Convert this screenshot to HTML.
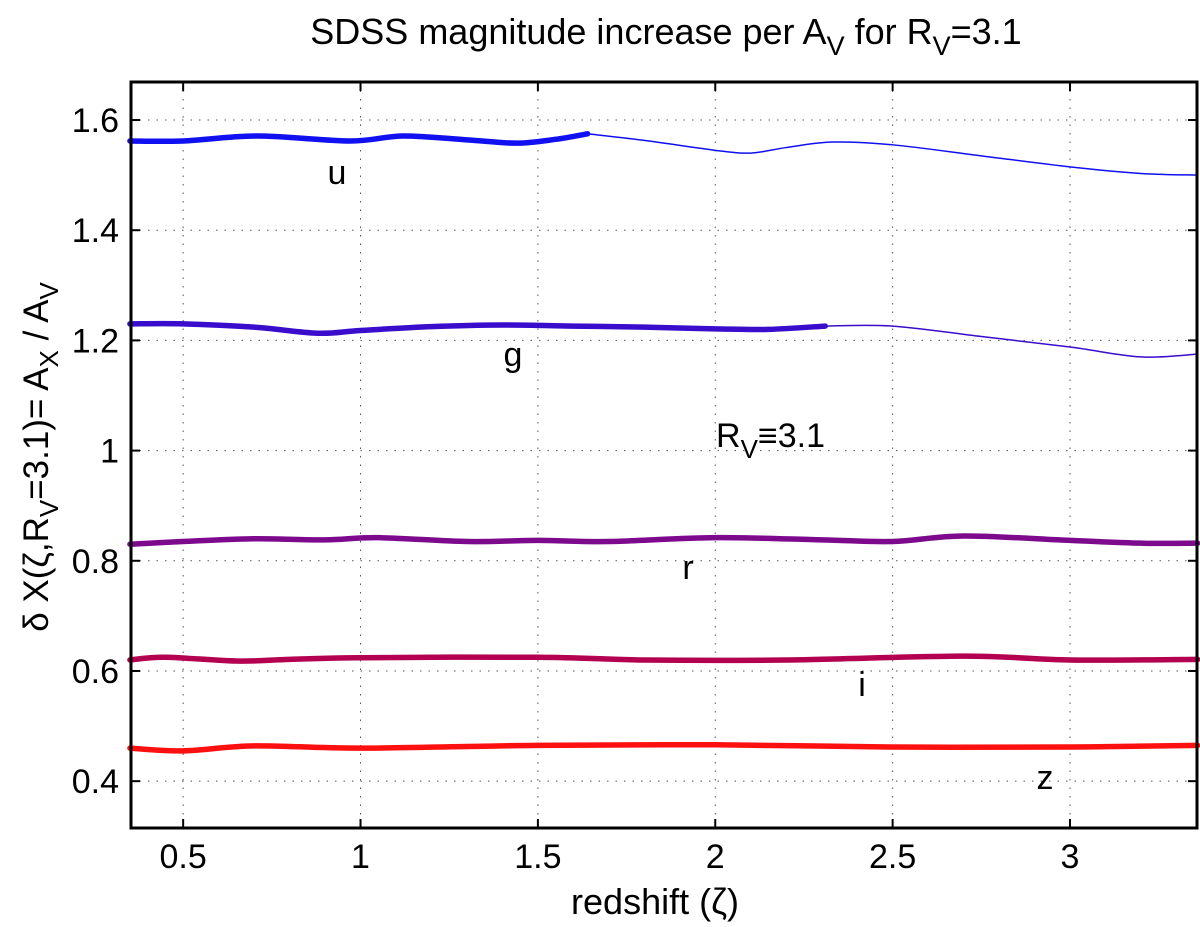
<!DOCTYPE html>
<html><head><meta charset="utf-8"><style>
body{margin:0;background:#fff}
svg text{font-family:"Liberation Sans",sans-serif;fill:#000}
</style></head><body>
<svg id="c" width="1200" height="922" xmlns="http://www.w3.org/2000/svg">
<text x="666" y="44" font-size="36" text-anchor="middle">SDSS magnitude increase per A<tspan font-size="27" dy="11">V</tspan><tspan dy="-11"> for R</tspan><tspan font-size="27" dy="11">V</tspan><tspan dy="-11">=3.1</tspan></text>
<text x="655" y="914" font-size="36" text-anchor="middle">redshift (ζ)</text>
<text transform="translate(48,457) rotate(-90)" font-size="35" text-anchor="middle">δ X(ζ,R<tspan font-size="26" dy="10">V</tspan><tspan dy="-10">=3.1)= A</tspan><tspan font-size="26" dy="10">X</tspan><tspan dy="-10"> / A</tspan><tspan font-size="26" dy="10">V</tspan></text>
<g id="grid"></g><g id="lines"></g><g id="ticks"></g>
<rect x="131" y="82" width="1066" height="746" fill="none" stroke="#000" stroke-width="3"/>
<text x="337" y="184" font-size="34" text-anchor="middle">u</text>
<text x="513" y="366" font-size="34" text-anchor="middle">g</text>
<text x="716" y="447" font-size="34">R<tspan font-size="26" dy="11">V</tspan><tspan dy="-11">≡3.1</tspan></text>
<text x="688" y="579" font-size="34" text-anchor="middle">r</text>
<text x="862" y="696" font-size="34" text-anchor="middle">i</text>
<text x="1045" y="789" font-size="34" text-anchor="middle">z</text>
</svg>
<script>
const xTicks=[0.5,1,1.5,2,2.5,3];
const xTickLabels=["0.5","1","1.5","2","2.5","3"];
const yTicks=[0.4,0.6,0.8,1.0,1.2,1.4,1.6];
const yTickLabels=["0.4","0.6","0.8","1","1.2","1.4","1.6"];
const uThickX=[0.35,0.5,0.71,0.97,1.12,1.3,1.44,1.55,1.64];
const uThickY=[1.562,1.562,1.571,1.562,1.571,1.564,1.558,1.565,1.575];
const uThinX=[1.64,1.8,2.0,2.1,2.2,2.33,2.5,2.75,3.0,3.2,3.36];
const uThinY=[1.575,1.563,1.545,1.540,1.550,1.560,1.555,1.535,1.515,1.503,1.500];
const gThickX=[0.35,0.5,0.7,0.88,1.0,1.2,1.4,1.6,1.8,2.0,2.15,2.31];
const gThickY=[1.230,1.230,1.224,1.213,1.218,1.225,1.228,1.226,1.224,1.221,1.220,1.226];
const gThinX=[2.31,2.5,2.75,3.0,3.2,3.36];
const gThinY=[1.226,1.226,1.207,1.188,1.170,1.175];
const rX=[0.35,0.5,0.7,0.9,1.05,1.3,1.5,1.7,2.0,2.3,2.5,2.7,3.0,3.2,3.36];
const rY=[0.830,0.835,0.840,0.838,0.842,0.835,0.837,0.835,0.842,0.838,0.835,0.845,0.837,0.832,0.832];
const iX=[0.35,0.45,0.65,0.8,1.0,1.5,1.8,2.2,2.7,3.0,3.36];
const iY=[0.620,0.625,0.618,0.621,0.624,0.625,0.620,0.620,0.627,0.620,0.621];
const zX=[0.35,0.5,0.7,1.0,1.5,2.0,2.5,3.0,3.36];
const zY=[0.460,0.455,0.464,0.460,0.465,0.466,0.462,0.462,0.465];
const X0=0.353,X1=3.358,Y0=0.315,Y1=1.669,L=131,R=1197,T=82,B=828;
const sx=v=>L+(v-X0)/(X1-X0)*(R-L), sy=v=>B-(v-Y0)/(Y1-Y0)*(B-T);
const NS="http://www.w3.org/2000/svg";
function mk(tag,attrs,parent){const e=document.createElementNS(NS,tag);for(const k in attrs)e.setAttribute(k,attrs[k]);document.getElementById(parent).appendChild(e);return e;}
xTicks.forEach((t,i)=>{const x=sx(t);
 let g=mk('line',{x1:x,x2:x,y1:T,y2:B,stroke:'#555','stroke-width':1,'stroke-dasharray':'1.5 7'},'grid');
 
 
 mk('line',{x1:x,x2:x,y1:B,y2:B-9,stroke:'#000','stroke-width':2},'ticks');
 mk('line',{x1:x,x2:x,y1:T,y2:T+9,stroke:'#000','stroke-width':2},'ticks');
 const tx=mk('text',{x:x,y:868,'font-size':34,'text-anchor':'middle'},'ticks');tx.textContent=xTickLabels[i];
 
 
});
yTicks.forEach((t,i)=>{const y=sy(t);
 let g=mk('line',{x1:L,x2:R,y1:y,y2:y,stroke:'#555','stroke-width':1,'stroke-dasharray':'1.5 7'},'grid');
 
 
 mk('line',{x1:L,x2:L+9,y1:y,y2:y,stroke:'#000','stroke-width':2},'ticks');
 mk('line',{x1:R,x2:R-9,y1:y,y2:y,stroke:'#000','stroke-width':2},'ticks');
 const tx=mk('text',{x:119,y:y+12,'font-size':34,'text-anchor':'end'},'ticks');tx.textContent=yTickLabels[i];
 
 
});
function path(xs,ys){let d='';const p=xs.map((x,i)=>[sx(x),sy(ys[i])]);
 d='M'+p[0][0]+','+p[0][1];
 for(let i=0;i<p.length-1;i++){const p0=p[i-1]||p[i],p1=p[i],p2=p[i+1],p3=p[i+2]||p2;
  d+=' C'+(p1[0]+(p2[0]-p0[0])/6)+','+(p1[1]+(p2[1]-p0[1])/6)+' '+(p2[0]-(p3[0]-p1[0])/6)+','+(p2[1]-(p3[1]-p1[1])/6)+' '+p2[0]+','+p2[1];}
 return d;}
const series=[[uThickX,uThickY,'#1010f0',5.5,'u-line-thick'],[uThinX,uThinY,'#1010f0',1.5,'u-line-thin'],
[gThickX,gThickY,'#3a0ccc',5.5,'g-line-thick'],[gThinX,gThinY,'#3a0ccc',1.5,'g-line-thin'],
[rX,rY,'#7d0a8c',5.5,'r-line'],[iX,iY,'#b30050',5.5,'i-line'],[zX,zY,'#ff1010',5.5,'z-line']];
series.forEach(s=>{const e=mk('path',{d:path(s[0],s[1]),fill:'none',stroke:s[2],'stroke-width':s[3],'stroke-linecap':'round'},'lines');
 
 
});
</script>
</body></html>
